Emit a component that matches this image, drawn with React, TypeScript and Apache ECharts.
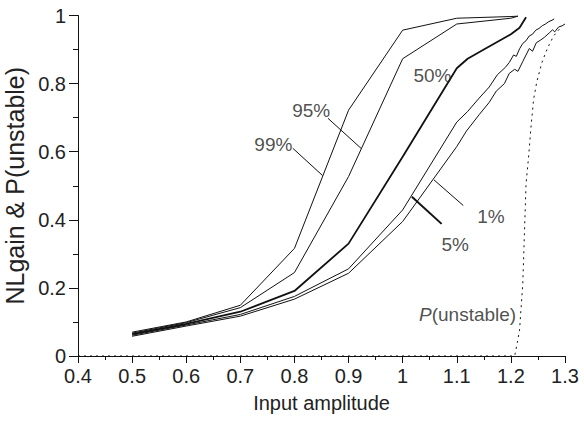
import React, { useEffect, useRef } from "react";
import * as echarts from "echarts";

// Percentile curves of NLgain vs input amplitude
const p99X = [0.5, 0.6, 0.7, 0.8, 0.9, 1.0, 1.1, 1.2, 1.213];
const p99Y = [0.070, 0.100, 0.149, 0.316, 0.722, 0.957, 0.992, 0.997, 0.998];

const p95X = [0.5, 0.6, 0.7, 0.8, 0.9, 1.0, 1.1, 1.2, 1.213];
const p95Y = [0.067, 0.098, 0.142, 0.245, 0.527, 0.873, 0.975, 0.992, 0.998];

const p50X = [0.5, 0.6, 0.7, 0.8, 0.9, 1.0, 1.1, 1.12, 1.15, 1.2, 1.216, 1.228];
const p50Y = [0.064, 0.094, 0.130, 0.191, 0.330, 0.585, 0.845, 0.873, 0.900, 0.945, 0.964, 0.995];

const p5X = [0.5, 0.6, 0.7, 0.8, 0.9, 1.0, 1.1, 1.12, 1.14, 1.16, 1.175, 1.19, 1.197, 1.205, 1.21, 1.216, 1.222, 1.228, 1.234, 1.24, 1.246, 1.252, 1.258, 1.264, 1.27, 1.276, 1.28];
const p5Y = [0.061, 0.091, 0.122, 0.175, 0.256, 0.429, 0.687, 0.718, 0.755, 0.790, 0.826, 0.848, 0.862, 0.884, 0.880, 0.902, 0.918, 0.926, 0.940, 0.945, 0.957, 0.962, 0.970, 0.975, 0.982, 0.986, 0.990];

const p1X = [0.5, 0.6, 0.7, 0.8, 0.9, 1.0, 1.1, 1.118, 1.142, 1.16, 1.173, 1.188, 1.197, 1.207, 1.213, 1.222, 1.228, 1.234, 1.24, 1.247, 1.255, 1.262, 1.271, 1.277, 1.281, 1.288, 1.295, 1.3];
const p1Y = [0.058, 0.088, 0.117, 0.167, 0.243, 0.395, 0.615, 0.661, 0.710, 0.745, 0.778, 0.800, 0.830, 0.842, 0.836, 0.865, 0.884, 0.903, 0.895, 0.920, 0.928, 0.936, 0.949, 0.958, 0.952, 0.966, 0.970, 0.975];

// Probability of instability (dotted)
const pUnsX = [0.4, 1.207, 1.212, 1.216, 1.222, 1.225, 1.228, 1.233, 1.237, 1.242, 1.248, 1.257, 1.264, 1.271, 1.279, 1.287, 1.295];
const pUnsY = [0, 0, 0.04, 0.076, 0.213, 0.359, 0.505, 0.59, 0.67, 0.754, 0.806, 0.86, 0.89, 0.915, 0.94, 0.955, 0.97];

// Annotations
const labelTexts = ["99%", "95%", "50%", "5%", "1%", "{it|P}(unstable)"];
const labelX = [0.761, 0.831, 1.055, 1.097, 1.163, 1.12];
const labelY = [0.62, 0.722, 0.824, 0.327, 0.41, 0.122];

// Leader lines: [x1, y1, x2, y2, width]
const leaderLines = [
  [0.797, 0.61, 0.852, 0.53, 1],
  [0.862, 0.698, 0.923, 0.61, 1],
  [1.058, 0.517, 1.112, 0.442, 1],
  [1.017, 0.468, 1.072, 0.388, 2],
];

const pairs = (xs: number[], ys: number[]) => xs.map((x, i) => [x, ys[i]]);
const fmt = (v: number) => String(Math.round(v * 10) / 10);

export default function App() {
  const ref = useRef<HTMLDivElement>(null);
  useEffect(() => {
    document.body.style.margin = "0";
    const chart = echarts.init(ref.current!, null, { renderer: "svg" });
    const font = '"Liberation Sans", Arial, Helvetica, sans-serif';
    const ink = "#111";
    const txt = "#222";
    const curve = (name: string, xs: number[], ys: number[], width: number, type: any = "solid") => ({
      type: "line",
      name,
      data: pairs(xs, ys),
      symbol: "none",
      showSymbol: false,
      silent: true,
      lineStyle: { color: ink, width, type },
      z: 3,
    });
    const leaders = leaderLines.map((l, i) => ({
      type: "line",
      name: "leader" + i,
      data: [[l[0], l[1]], [l[2], l[3]]],
      symbol: "none",
      silent: true,
      lineStyle: { color: ink, width: l[4] },
      z: 3,
    }));
    const axisCommon = {
      axisLine: { show: true, onZero: false, lineStyle: { color: ink, width: 1 } },
      axisTick: { show: true, lineStyle: { color: ink, width: 1 } },
      minorTick: { show: true, splitNumber: 2, lineStyle: { color: ink, width: 1 } },
      splitLine: { show: false },
      minorSplitLine: { show: false },
    };
    chart.setOption({
      animation: false,
      backgroundColor: "#fff",
      grid: { left: 78, right: 19, top: 15.5, bottom: 67, containLabel: false, outerBoundsMode: "none" },
      xAxis: {
        type: "value",
        min: 0.4,
        max: 1.3,
        interval: 0.1,
        name: "Input amplitude",
        nameLocation: "middle",
        nameGap: 37,
        nameTextStyle: { fontFamily: font, fontSize: 20, color: txt },
        ...axisCommon,
        axisTick: { ...axisCommon.axisTick, length: 7 },
        minorTick: { ...axisCommon.minorTick, length: 4 },
        axisLabel: { margin: 10, fontFamily: font, fontSize: 20, color: txt, formatter: fmt },
      },
      yAxis: {
        type: "value",
        min: 0,
        max: 1,
        interval: 0.2,
        name: "NLgain & P(unstable)",
        nameLocation: "middle",
        nameGap: 44,
        nameTextStyle: { fontFamily: font, fontSize: 25, color: txt },
        ...axisCommon,
        axisTick: { ...axisCommon.axisTick, length: 9 },
        minorTick: { ...axisCommon.minorTick, length: 5 },
        axisLabel: { margin: 12, fontFamily: font, fontSize: 20, color: txt, formatter: fmt },
      },
      series: [
        curve("99%", p99X, p99Y, 1),
        curve("95%", p95X, p95Y, 1),
        curve("50%", p50X, p50Y, 1.8),
        curve("5%", p5X, p5Y, 1),
        curve("1%", p1X, p1Y, 1),
        curve("P(unstable)", pUnsX, pUnsY, 1, [2, 4]),
        ...leaders,
        {
          type: "scatter",
          name: "labels",
          data: labelX.map((x, i) => [x, labelY[i]]),
          symbolSize: 0,
          silent: true,
          z: 5,
          label: {
            show: true,
            position: "inside",
            fontFamily: font,
            fontSize: 19,
            color: txt,
            formatter: (p: any) => labelTexts[p.dataIndex],
            rich: { it: { fontStyle: "italic", fontFamily: font, fontSize: 19, color: txt } },
          },
        },
      ],
    });
    return () => chart.dispose();
  }, []);
  return <div ref={ref} style={{ width: 584, height: 423 }} />;
}
